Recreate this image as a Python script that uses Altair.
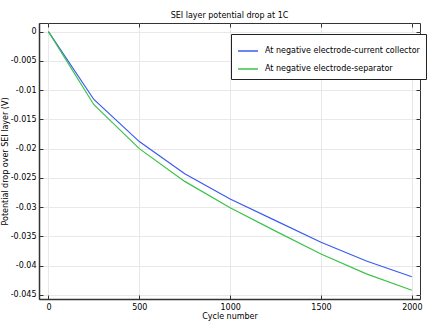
import altair as alt
import pandas as pd

cycles = [0, 250, 500, 750, 1000, 1250, 1500, 1750, 2000]
v_cc = [0.0, -0.0116, -0.0188, -0.0243, -0.0286, -0.0323, -0.0360, -0.0392, -0.0419]
v_sep = [0.0, -0.0125, -0.0200, -0.0256, -0.0301, -0.0341, -0.0380, -0.0414, -0.0442]
series = ["At negative electrode-current collector", "At negative electrode-separator"]
colors = ["#3a5cf0", "#3cc24a"]

x_ticks = [0, 500, 1000, 1500, 2000]
y_ticks = [0, -0.005, -0.01, -0.015, -0.02, -0.025, -0.03, -0.035, -0.04, -0.045]

rows = []
for c, a, b in zip(cycles, v_cc, v_sep):
    rows.append({"cycle": c, "v": a, "series": series[0]})
    rows.append({"cycle": c, "v": b, "series": series[1]})
df = pd.DataFrame(rows)

W, H = 381, 276
FONT = "DejaVu Sans"
LBL = "'' + round(datum.value * 1000000) / 1000000"

xs = alt.Scale(domain=[-52, 2045], nice=False, zero=False)
ys = alt.Scale(domain=[-0.0457, 0.00147], nice=False, zero=False)
col = alt.Color("series:N", scale=alt.Scale(domain=series, range=colors),
                legend=alt.Legend(title=None, orient="none", legendX=192, legendY=11,
                                  direction="vertical", symbolType="stroke",
                                  symbolSize=400, symbolStrokeWidth=1.5,
                                  labelFontSize=8, labelFont=FONT, labelColor="#000",
                                  fillColor="white", strokeColor="#222", padding=6,
                                  rowPadding=3, labelOffset=6, labelLimit=300))

main = alt.Chart(df).mark_line(strokeWidth=1.2).encode(
    x=alt.X("cycle:Q", scale=xs, title="Cycle number",
            axis=alt.Axis(values=x_ticks, ticks=False, labelPadding=4, grid=True,
                          gridColor="#e8e8e8", domainColor="#333", domainWidth=1.5,
                          titlePadding=1, labelFontSize=8, titleFontSize=8,
                          titleFontWeight="normal", labelFont=FONT, titleFont=FONT,
                          labelColor="#000", titleColor="#000", labelExpr=LBL)),
    y=alt.Y("v:Q", scale=ys, title="Potential drop over SEI layer (V)",
            axis=alt.Axis(values=y_ticks, ticks=False, labelPadding=3, grid=True,
                          gridColor="#e8e8e8", domainColor="#333", domainWidth=1.5,
                          titlePadding=1, labelFontSize=8, titleFontSize=8,
                          titleFontWeight="normal", labelFont=FONT, titleFont=FONT,
                          labelColor="#000", titleColor="#000", labelFlush=False,
                          labelExpr=LBL)),
    color=col,
)

def tick_layer(xorient, yorient):
    return alt.Chart(df).mark_line(strokeOpacity=0).encode(
        x=alt.X("cycle:Q", scale=xs, title=None,
                axis=alt.Axis(orient=xorient, offset=-H, values=x_ticks, labels=False,
                              domain=False, grid=False, ticks=True, tickSize=4,
                              tickColor="#333")),
        y=alt.Y("v:Q", scale=ys, title=None,
                axis=alt.Axis(orient=yorient, offset=-W, values=y_ticks, labels=False,
                              domain=False, grid=False, ticks=True, tickSize=4,
                              tickColor="#333")),
        detail="series:N",
    )

chart = alt.layer(main, tick_layer("top", "right"), tick_layer("bottom", "left")).resolve_axis(
    x="independent", y="independent"
).properties(
    width=W, height=H,
    title=alt.TitleParams("SEI layer potential drop at 1C", fontSize=8, font=FONT,
                          fontWeight="normal", color="#000", offset=3),
    autosize=alt.AutoSizeParams(type="none"),
    padding={"left": 39, "top": 23, "right": 7, "bottom": 24},
).configure_view(stroke="#333", strokeWidth=1)

chart.save("out.html", embed_options={"renderer": "svg", "actions": False})
